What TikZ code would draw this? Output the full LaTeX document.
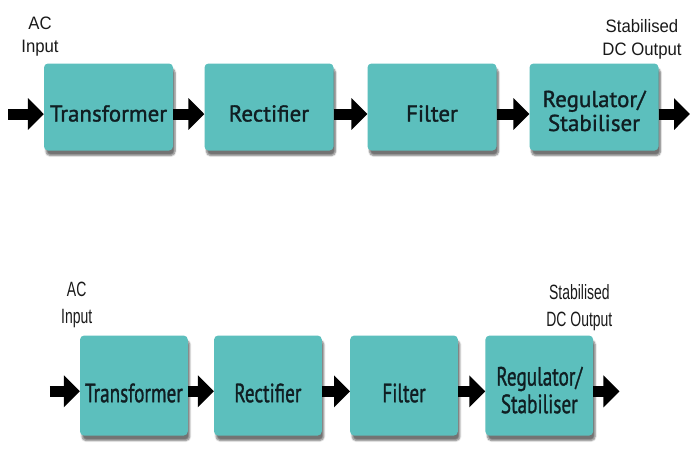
\documentclass[tikz,border=0pt]{standalone}
\usepackage{fontspec}
\newfontfamily\boxfont[FakeBold=1.3]{PT Sans}
\newfontfamily\labfont[FakeStretch=0.93]{Liberation Sans}
\usetikzlibrary{arrows.meta,shadows.blur}
\definecolor{boxteal}{RGB}{92,191,189}
\definecolor{boxink}{RGB}{16,30,34}
\tikzset{
  stage/.style={rectangle, rounded corners=4pt, fill=boxteal, minimum width=129pt,
    minimum height=87pt, inner sep=0pt, align=center, text=boxink,
    font=\boxfont\fontsize{23}{24}\selectfont, text height=29pt, text depth=0pt,
    blur shadow={shadow xshift=2pt, shadow yshift=-5pt, shadow blur steps=6, shadow opacity=55}},
  twoline/.style={text height=48pt, text depth=0pt},
  flow/.style={line width=11pt, -{Triangle[length=16pt,width=31pt]}},
  iolabel/.style={anchor=north, inner sep=0pt, align=center, text=black!90,
    font=\labfont\fontsize{18}{23}\selectfont}
}
\begin{document}
\begin{tikzpicture}[x=1pt, y=-1pt]
  \useasboundingbox (0,0) rectangle (692,451);

  % Top row
  \node[stage] (trans) at (108.5,107) {Transformer};
  \node[stage] (rect) at (269,107) {Rectifier};
  \node[stage] (filt) at (432,107) {Filter};
  \node[stage, twoline] (reg) at (594,107) {Regulator/\\Stabiliser};

  \node[iolabel] (acin) at (40,17) {AC\\Input};
  \node[iolabel] (dcout) at (642,19) {Stabilised\\DC Output};

  % Arrows
  \coordinate (src) at (8,114);
  \coordinate (sink) at (690,114);
  \draw[flow] (src) -- (trans.west |- src);
  \draw[flow] (trans.east |- src) -- (rect.west |- src);
  \draw[flow] (rect.east |- src) -- (filt.west |- src);
  \draw[flow] (filt.east |- src) -- (reg.west |- src);
  \draw[flow] (reg.east |- sink) -- (sink);

  % Bottom row: same chain, squeezed
  \begin{scope}[shift={(43.3,262.6)}, xscale=0.835, yscale=1.149, transform shape]
    \node[stage] (trans2) at (108.5,107) {Transformer};
    \node[stage] (rect2) at (269,107) {Rectifier};
    \node[stage] (filt2) at (432,107) {Filter};
    \node[stage, twoline] (reg2) at (594,107) {Regulator/\\Stabiliser};

    \node[iolabel] (acin2) at (40,17) {AC\\Input};
    \node[iolabel] (dcout2) at (642,19) {Stabilised\\DC Output};

    \coordinate (src2) at (8,112);
    \coordinate (sink2) at (690,112);
    \draw[flow] (src2) -- (trans2.west |- src2);
    \draw[flow] (trans2.east |- src2) -- (rect2.west |- src2);
    \draw[flow] (rect2.east |- src2) -- (filt2.west |- src2);
    \draw[flow] (filt2.east |- src2) -- (reg2.west |- src2);
    \draw[flow] (reg2.east |- sink2) -- (sink2);
  \end{scope}
\end{tikzpicture}
\end{document}
